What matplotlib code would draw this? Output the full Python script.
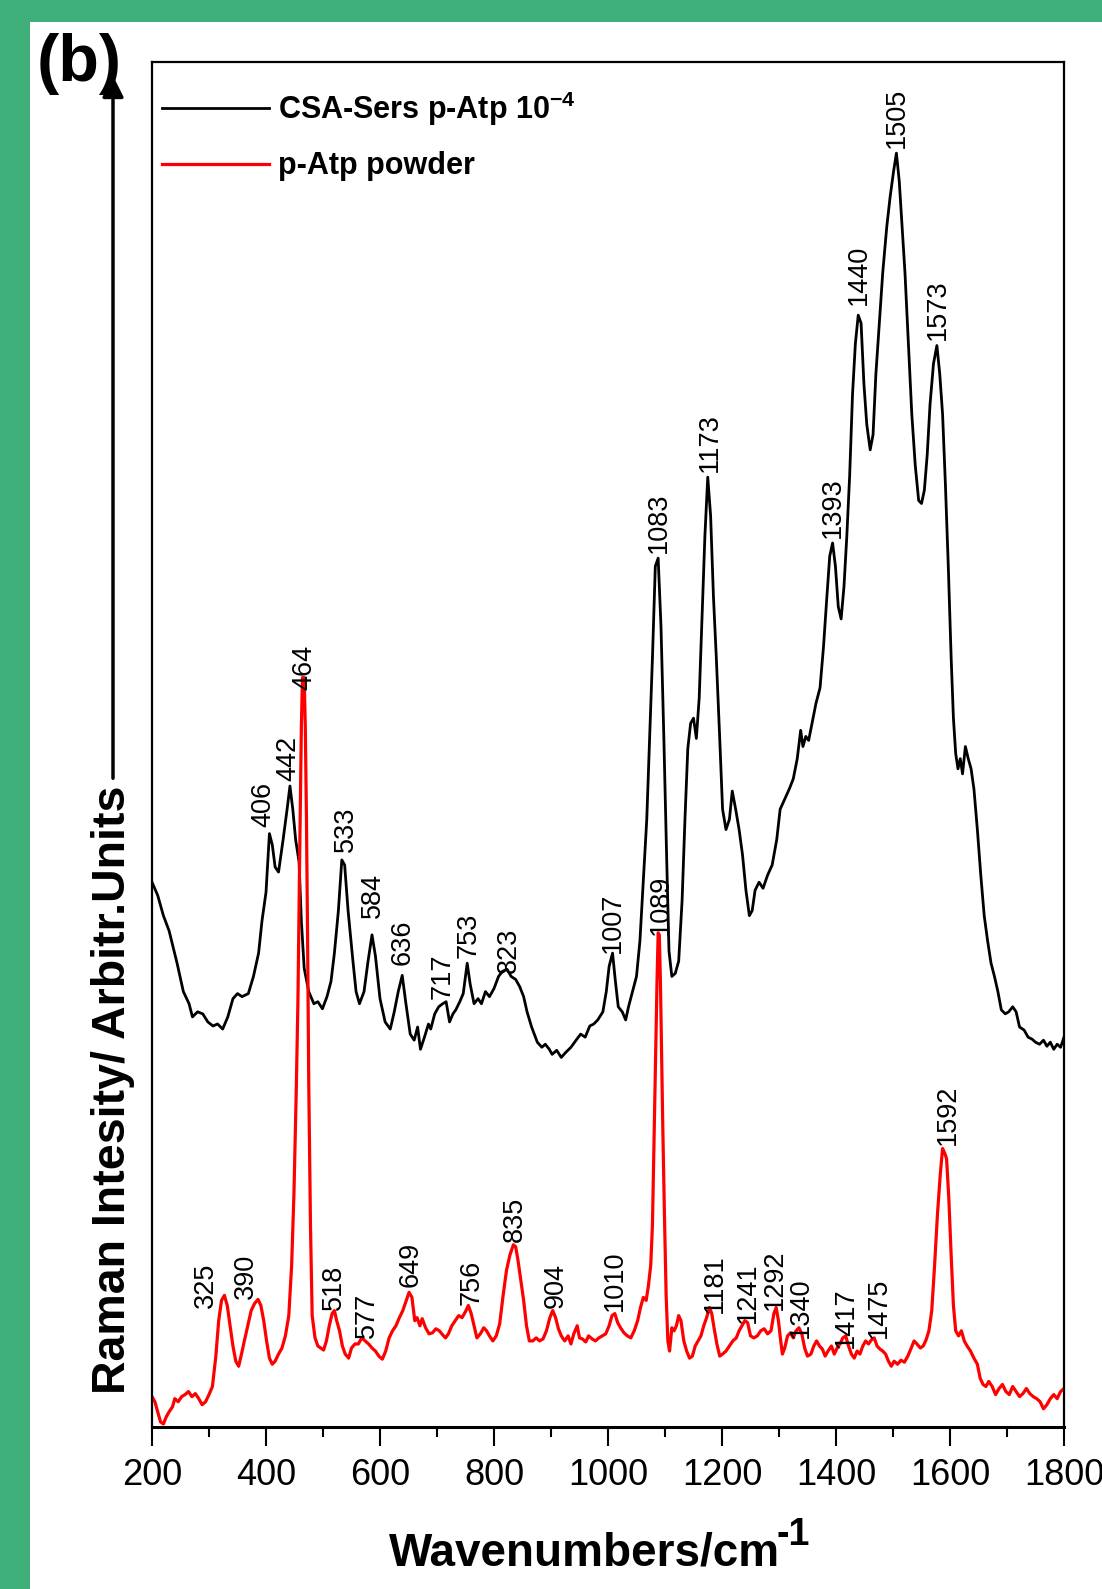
import numpy as np
import matplotlib
matplotlib.use("Agg")
import matplotlib.pyplot as plt
from matplotlib.patches import Rectangle
from matplotlib.ticker import MultipleLocator

plt.rcParams['font.family'] = ['Liberation Sans', 'DejaVu Sans']
plt.rcParams['mathtext.fontset'] = 'custom'
plt.rcParams['mathtext.rm'] = 'Liberation Sans'
plt.rcParams['mathtext.bf'] = 'Liberation Sans:bold'
plt.rcParams['mathtext.it'] = 'Liberation Sans:italic'

# SERS spectrum (black), wavenumber / arbitrary intensity
sers_wn = [200, 210, 220, 230, 244, 255, 265, 271, 280, 289, 298, 307, 315, 324, 333, 342, 350, 358, 369, 378,
           387, 393, 400, 406, 411, 416, 422, 430, 437, 442, 447, 452, 458, 462, 467, 475, 484, 491, 499, 507,
           514, 520, 527, 533, 538, 544, 552, 558, 564, 572, 579, 586, 592, 600, 609, 618, 625, 632, 639, 645,
           653, 660, 666, 671, 678, 685, 689, 696, 703, 710, 716, 722, 728, 733, 740, 746, 753, 758, 765, 772,
           778, 785, 792, 800, 808, 815, 823, 830, 838, 845, 852, 858, 866, 876, 884, 890, 897, 902, 910, 918,
           926, 935, 944, 952, 960, 968, 975, 982, 991, 997, 1002, 1008, 1013, 1018, 1025, 1031, 1036, 1042, 1050, 1056,
           1062, 1068, 1073, 1078, 1083, 1088, 1093, 1098, 1103, 1107, 1112, 1118, 1124, 1130, 1135, 1140, 1145, 1150, 1155, 1160,
           1165, 1170, 1175, 1180, 1185, 1190, 1196, 1201, 1207, 1213, 1218, 1224, 1230, 1236, 1242, 1248, 1253, 1258, 1265, 1272,
           1280, 1288, 1296, 1302, 1310, 1318, 1325, 1332, 1338, 1342, 1347, 1352, 1358, 1365, 1372, 1378, 1384, 1389, 1394, 1399,
           1404, 1409, 1414, 1419, 1424, 1429, 1434, 1439, 1444, 1449, 1454, 1460, 1465, 1470, 1476, 1482, 1489, 1495, 1501, 1506,
           1511, 1516, 1521, 1527, 1533, 1539, 1545, 1550, 1555, 1560, 1565, 1571, 1577, 1582, 1587, 1592, 1597, 1602, 1606, 1610,
           1614, 1618, 1622, 1627, 1632, 1637, 1642, 1648, 1654, 1660, 1666, 1672, 1678, 1684, 1690, 1697, 1703, 1710, 1716, 1722,
           1730, 1737, 1744, 1750, 1757, 1764, 1770, 1776, 1782, 1788, 1794, 1800]
sers_int = [538, 525, 505, 490, 458, 430, 418, 405, 410, 408, 400, 396, 398, 393, 405, 423, 428, 425, 428, 445,
            468, 500, 528, 586, 575, 553, 548, 580, 610, 633, 610, 580, 558, 500, 453, 430, 418, 420, 413, 425,
            440, 468, 510, 560, 555, 510, 463, 430, 418, 430, 460, 486, 465, 423, 400, 393, 410, 430, 446, 420,
            388, 382, 395, 373, 385, 398, 393, 408, 415, 418, 420, 400, 408, 412, 420, 428, 458, 438, 418, 423,
            418, 430, 425, 433, 445, 450, 452, 445, 442, 435, 425, 410, 395, 380, 375, 378, 373, 368, 372, 365,
            370, 375, 382, 388, 385, 396, 398, 402, 410, 430, 455, 468, 440, 415, 410, 402, 415, 428, 445, 480,
            540, 600, 680, 760, 850, 858, 790, 680, 560, 470, 445, 448, 460, 520, 600, 670, 695, 700, 680, 720,
            800, 880, 938, 900, 820, 760, 680, 610, 590, 600, 628, 610, 590, 565, 530, 505, 510, 530, 538, 532,
            545, 555, 580, 610, 620, 630, 640, 660, 688, 672, 682, 678, 695, 715, 730, 770, 820, 860, 873, 850,
            810, 798, 830, 880, 940, 1020, 1070, 1098, 1090, 1030, 990, 965, 980, 1040, 1090, 1140, 1185, 1215, 1240, 1258,
            1230, 1185, 1140, 1070, 1000, 950, 915, 912, 925, 960, 1010, 1050, 1068, 1040, 1000, 930, 850, 760, 700, 665,
            650, 660, 645, 672, 660, 650, 630, 590, 545, 505, 480, 458, 445, 430, 412, 408, 410, 415, 410, 395,
            392, 385, 383, 380, 378, 382, 376, 380, 373, 378, 375, 385]

# p-Atp powder spectrum (red)
powder_wn = [200, 205, 210, 215, 220, 225, 230, 236, 240, 246, 252, 258, 264, 270, 276, 282, 288, 294, 300, 306,
             312, 317, 322, 327, 332, 337, 342, 347, 352, 357, 362, 368, 374, 380, 386, 391, 396, 401, 406, 411,
             416, 422, 428, 434, 440, 445, 449, 453, 456, 459, 462, 464, 467, 469, 471, 473, 475, 478, 481, 486,
             491, 496, 501, 506, 511, 516, 520, 524, 529, 534, 539, 545, 550, 556, 562, 568, 574, 580, 586, 592,
             598, 604, 610, 616, 622, 628, 634, 640, 646, 651, 656, 661, 665, 670, 674, 680, 686, 692, 698, 704,
             710, 715, 720, 726, 732, 738, 744, 750, 755, 760, 765, 770, 776, 782, 787, 792, 798, 804, 810, 816,
             822, 828, 834, 838, 842, 847, 852, 857, 862, 868, 874, 880, 886, 892, 898, 903, 908, 913, 918, 924,
             930, 935, 940, 946, 950, 955, 961, 966, 972, 978, 984, 990, 996, 1002, 1007, 1012, 1017, 1022, 1028, 1034,
             1040, 1046, 1052, 1057, 1062, 1067, 1071, 1075, 1078, 1081, 1084, 1086, 1088, 1090, 1092, 1094, 1096, 1099, 1102, 1105,
             1108, 1112, 1116, 1120, 1124, 1128, 1133, 1138, 1143, 1148, 1153, 1158, 1163, 1168, 1173, 1178, 1182, 1186, 1191, 1196,
             1201, 1207, 1213, 1219, 1225, 1230, 1235, 1240, 1245, 1250, 1256, 1262, 1268, 1274, 1280, 1286, 1291, 1295, 1299, 1303,
             1306, 1310, 1315, 1320, 1325, 1330, 1335, 1340, 1345, 1350, 1356, 1361, 1366, 1371, 1376, 1381, 1386, 1392, 1397, 1402,
             1407, 1412, 1417, 1422, 1427, 1432, 1437, 1442, 1447, 1452, 1457, 1462, 1467, 1472, 1477, 1482, 1487, 1492, 1497, 1502,
             1508, 1514, 1520, 1526, 1532, 1537, 1542, 1548, 1553, 1558, 1563, 1568, 1573, 1578, 1583, 1587, 1591, 1594, 1598, 1602,
             1606, 1610, 1615, 1620, 1625, 1630, 1636, 1642, 1648, 1653, 1658, 1663, 1668, 1674, 1680, 1686, 1692, 1698, 1704, 1710,
             1716, 1722, 1728, 1734, 1740, 1746, 1752, 1758, 1764, 1770, 1776, 1782, 1788, 1794, 1800]
powder_int = [30, 25, 15, 5, 3, 10, 15, 20, 28, 25, 30, 32, 35, 30, 33, 28, 22, 25, 32, 40,
              70, 105, 125, 130, 120, 100, 80, 65, 60, 72, 85, 100, 115, 122, 126, 120, 105, 85, 68, 62,
              65, 72, 78, 90, 110, 160, 230, 330, 420, 560, 690, 740, 740, 690, 600, 480, 340, 200, 110, 88,
              80, 78, 76, 85, 100, 112, 115, 105, 95, 80, 72, 68, 78, 82, 82, 88, 85, 82, 78, 75,
              70, 67, 75, 88, 95, 100, 108, 115, 125, 133, 128, 105, 108, 100, 107, 98, 92, 93, 97, 95,
              91, 88, 92, 100, 105, 110, 108, 114, 120, 112, 100, 88, 92, 98, 95, 90, 85, 90, 102, 130,
              155, 170, 180, 178, 165, 145, 125, 100, 85, 85, 88, 85, 87, 95, 108, 115, 108, 97, 90, 85,
              90, 82, 92, 100, 88, 87, 84, 90, 87, 85, 88, 90, 92, 100, 110, 112, 103, 98, 93, 90,
              88, 95, 105, 118, 128, 125, 140, 160, 200, 290, 380, 440, 488, 486, 440, 370, 300, 210, 130, 85,
              75, 98, 95, 100, 110, 105, 85, 75, 68, 70, 80, 85, 90, 100, 108, 118, 112, 98, 82, 70,
              72, 75, 80, 85, 88, 95, 100, 105, 103, 90, 88, 90, 95, 97, 92, 95, 112, 118, 105, 85,
              72, 78, 90, 93, 88, 95, 98, 92, 78, 70, 72, 80, 85, 80, 77, 70, 75, 80, 72, 78,
              82, 88, 90, 80, 72, 68, 75, 72, 80, 85, 82, 86, 88, 80, 77, 75, 72, 65, 60, 65,
              62, 66, 64, 70, 78, 85, 82, 78, 80, 86, 95, 115, 160, 210, 250, 275, 270, 265, 225, 170,
              120, 95, 90, 95, 85, 80, 75, 68, 62, 48, 42, 40, 45, 40, 32, 38, 42, 35, 32, 40,
              35, 30, 33, 38, 33, 30, 28, 25, 18, 22, 28, 32, 28, 35, 38]

# peak labels: text, x position, y of label base
sers_labels = ["406", "442", "533", "584", "636", "717", "753", "823", "1007", "1083", "1173", "1393", "1440", "1505", "1573"]
sers_lab_x = [396, 440, 541, 588, 639, 710, 755, 826, 1009, 1089, 1178, 1395, 1441, 1507, 1578]
sers_lab_y = [593, 638, 568, 503, 456, 423, 463, 448, 468, 863, 943, 878, 1108, 1263, 1073]

powder_labels = ["464", "1089", "325", "390", "518", "577", "649", "756", "835", "904", "1010", "1181", "1241",
                 "1292", "1340", "1417", "1475", "1592"]
powder_lab_x = [467, 1092, 294, 365, 520, 577, 653, 760, 836, 908, 1012, 1187, 1245, 1293, 1338, 1418, 1476, 1596]
powder_lab_y = [728, 486, 118, 126, 116, 88, 138, 120, 183, 118, 115, 113, 103, 116, 88, 78, 88, 278]

green = '#3FAF7A'
fig = plt.figure(figsize=(11.02, 15.89), dpi=100)
fig.patch.set_facecolor(green)
fig.add_artist(Rectangle((30 / 1102, 0), 1, 1 - 22 / 1589, transform=fig.transFigure,
                         facecolor='white', edgecolor='none', zorder=-1))

ax = fig.add_axes([152 / 1102, 1 - 1427 / 1589, 912 / 1102, 1365 / 1589])
ax.plot(sers_wn, sers_int, '-', color='black', lw=2.0, label=r'CSA-Sers p-Atp 10$^{\mathbf{-4}}$')
ax.plot(powder_wn, powder_int, '-', color='red', lw=2.3, label='p-Atp powder')

for t, x, y in zip(sers_labels, sers_lab_x, sers_lab_y):
    ax.text(x, y, t, rotation=90, ha='center', va='bottom', fontsize=19.5)
for t, x, y in zip(powder_labels, powder_lab_x, powder_lab_y):
    ax.text(x, y, t, rotation=90, ha='center', va='bottom', fontsize=19.5)

ax.set_xlim(200, 1800)
ax.set_ylim(0, 1348)
ax.set_yticks([])
ax.xaxis.set_major_locator(MultipleLocator(200))
ax.xaxis.set_minor_locator(MultipleLocator(100))
ax.tick_params(axis='x', which='major', direction='out', length=14, width=1.5, labelsize=26, pad=8)
ax.tick_params(axis='x', which='minor', direction='out', length=7, width=1.5)
for s in ['left', 'top', 'right']:
    ax.spines[s].set_linewidth(1.6)
ax.spines['bottom'].set_linewidth(2.2)

leg = ax.legend(loc='upper left', bbox_to_anchor=(0.011, 0.98), frameon=False, borderpad=0, borderaxespad=0,
                handlelength=3.5, handletextpad=0.3, labelspacing=0.78,
                prop={'size': 22, 'weight': 'bold'})

# x label with raised superscript
xl = fig.text(0.530, 1 - 1553 / 1589, 'Wavenumbers/cm', ha='center', va='center', fontsize=33, fontweight='bold')
ax.annotate('-1', xy=(1.0, 0.5), xycoords=xl, xytext=(-2, 0), textcoords='offset points',
            ha='left', va='bottom', fontsize=27, fontweight='bold')

# y axis arrow and label
ax.annotate('', xy=(113 / 1102, 1 - 73 / 1589), xytext=(113 / 1102, 1 - 781 / 1589), xycoords='figure fraction',
            arrowprops=dict(arrowstyle='-|>', lw=2.5, color='black', mutation_scale=32), annotation_clip=False)
fig.text(113 / 1102, 1 - 1090 / 1589, 'Raman Intesity/ Arbitr.Units', rotation=90, ha='center', va='center',
         fontsize=33.5, fontweight='bold')

fig.text(37 / 1102, 1 - 64 / 1589, '(b)', ha='left', va='center', fontsize=48, fontweight='bold')

fig.savefig('out.png', dpi=100, facecolor=fig.get_facecolor())
